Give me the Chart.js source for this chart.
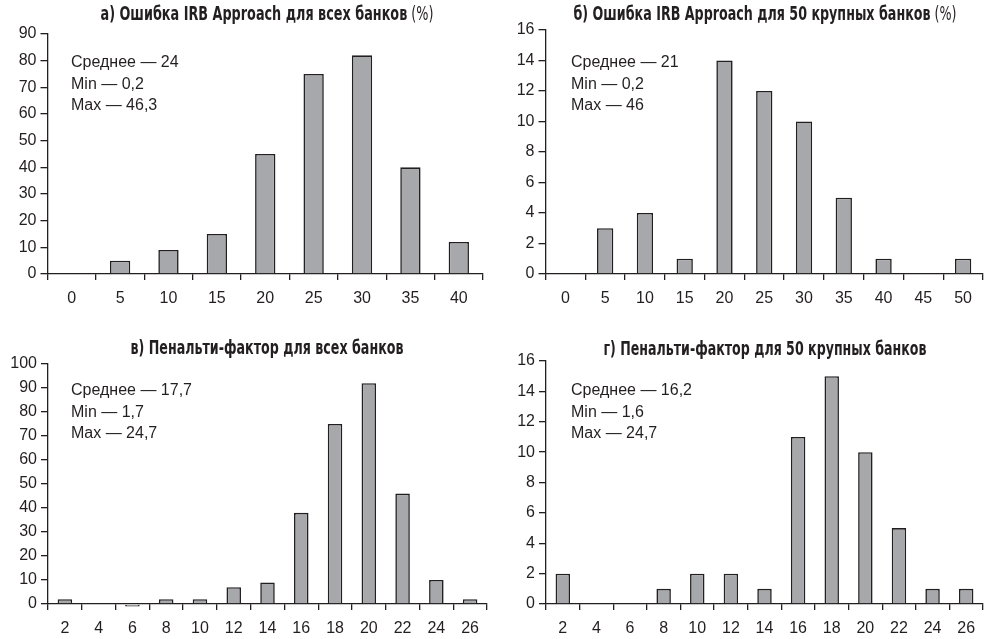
<!DOCTYPE html>
<html><head><meta charset="utf-8">
<script src="https://cdn.jsdelivr.net/npm/chart.js@4/dist/chart.umd.min.js"></script>
<style>
html,body{margin:0;padding:0;background:#fff;}
#wrap{position:relative;width:987px;height:639px;overflow:hidden;}
canvas{position:absolute;}
</style></head><body>
<div id="wrap">
<canvas id="cA" width="493" height="320" style="left:0;top:0"></canvas>
<canvas id="cB" width="494" height="320" style="left:493px;top:0"></canvas>
<canvas id="cC" width="493" height="319" style="left:0;top:320px"></canvas>
<canvas id="cD" width="494" height="319" style="left:493px;top:320px"></canvas>
</div>
<script>
// ---- data ----
const binsA = ['0','5','10','15','20','25','30','35','40'];
const countsA = [0,5,9,15,45,75,82,40,12];
const binsB = ['0','5','10','15','20','25','30','35','40','45','50'];
const countsB = [0,3,4,1,14,12,10,5,1,0,1];
const binsC = ['2','4','6','8','10','12','14','16','18','20','22','24','26'];
const countsC = [2,0,-1,2,2,7,9,38,75,92,46,10,2];
const binsD = ['2','4','6','8','10','12','14','16','18','20','22','24','26'];
const countsD = [2,0,0,1,2,2,1,11,15,10,5,1,1];

const titleA = ['а) Ошибка IRB Approach для всех банков', ' (%)'];
const titleB = ['б) Ошибка IRB Approach для 50 крупных банков', ' (%)'];
const titleC = ['в) Пенальти-фактор для всех банков', ''];
const titleD = ['г) Пенальти-фактор для 50 крупных банков', ''];

const statsA = ['Среднее — 24', 'Min — 0,2', 'Max — 46,3'];
const statsB = ['Среднее — 21', 'Min — 0,2', 'Max — 46'];
const statsC = ['Среднее — 17,7', 'Min — 1,7', 'Max — 24,7'];
const statsD = ['Среднее — 16,2', 'Min — 1,6', 'Max — 24,7'];

const yMaxA = 90, yStepA = 10;
const yMaxB = 16, yStepB = 2;
const yMaxC = 100, yStepC = 10;
const yMaxD = 16, yStepD = 2;

// ---- style ----
const INK = '#231f20';
const BAR = '#a7a8ab';
const FONT = '"Liberation Sans", Arial, sans-serif';
const TFONT = '"Liberation Sans Narrow", "DejaVu Sans Condensed", "Liberation Sans", sans-serif';

const overlay = {
  id: 'overlay',
  afterDraw(chart, args, o) {
    const ctx = chart.ctx;
    ctx.save();
    ctx.fillStyle = INK;
    ctx.textBaseline = 'middle';
    ctx.textAlign = 'left';
    // title (bold part + regular part), fitted to the reference width
    ctx.font = 'bold 19px ' + TFONT;
    const w1 = ctx.measureText(o.title[0]).width;
    ctx.font = '19px ' + TFONT;
    const w2 = ctx.measureText(o.title[1]).width;
    const sx = o.tw / (w1 + w2);
    ctx.save();
    ctx.translate(o.tx - o.tw / 2, o.ty);
    ctx.scale(sx, 1);
    ctx.font = 'bold 19px ' + TFONT;
    ctx.fillText(o.title[0], 0, 0);
    ctx.font = '19px ' + TFONT;
    ctx.fillText(o.title[1], w1, 0);
    ctx.restore();
    // stats
    ctx.font = '16px ' + FONT;
    o.stats.forEach((s, i) => ctx.fillText(s, o.sx, o.sy + i * 21.5));
    ctx.restore();
  }
};

function make(id, labels, data, ymax, ystep, area, pct, ov) {
  const cv = document.getElementById(id);
  const W = cv.width, H = cv.height;
  new Chart(cv, {
    type: 'bar',
    data: { labels: labels, datasets: [{
      data: data, backgroundColor: BAR, borderColor: INK, borderWidth: 1.6,
      borderSkipped: 'start', categoryPercentage: 1, barPercentage: pct, clip: false
    }]},
    options: {
      responsive: false, animation: false, devicePixelRatio: 1,
      layout: { padding: { left: 0, top: area.top, right: W - area.right, bottom: 0 } },
      plugins: { legend: { display: false }, tooltip: { enabled: false }, overlay: ov },
      scales: {
        x: {
          afterFit: s => { s.height = H - area.bottom; },
          grid: { display: true, drawOnChartArea: false, offset: true, tickLength: 6, color: INK, lineWidth: 1.3 },
          border: { display: true, color: INK, width: 1.3 },
          ticks: { color: INK, font: { family: FONT, size: 16 }, padding: 9, maxRotation: 0, autoSkip: false }
        },
        y: {
          min: 0, max: ymax,
          afterFit: s => { s.width = area.left; },
          grid: { display: true, drawOnChartArea: false, tickLength: 7, color: INK, lineWidth: 1.3 },
          border: { display: true, color: INK, width: 1.3 },
          ticks: { stepSize: ystep, color: INK, font: { family: FONT, size: 16 }, padding: 4 }
        }
      }
    },
    plugins: [overlay]
  });
}

make('cA', binsA, countsA, yMaxA, yStepA, {left:47.5, right:483, top:34, bottom:274}, 0.42,
  {title: titleA, tx: 267, ty: 15, tw: 333, stats: statsA, sx: 71, sy: 63});
make('cB', binsB, countsB, yMaxB, yStepB, {left:52.5, right:490, top:30, bottom:274}, 0.41,
  {title: titleB, tx: 272, ty: 15, tw: 383, stats: statsB, sx: 78, sy: 63});
make('cC', binsC, countsC, yMaxC, yStepC, {left:48, right:487, top:44, bottom:284}, 0.43,
  {title: titleC, tx: 267, ty: 29, tw: 273, stats: statsC, sx: 71, sy: 71});
make('cD', binsD, countsD, yMaxD, yStepD, {left:53, right:490, top:41, bottom:284}, 0.43,
  {title: titleD, tx: 272, ty: 30, tw: 323, stats: statsD, sx: 78, sy: 71});
</script>
</body></html>
